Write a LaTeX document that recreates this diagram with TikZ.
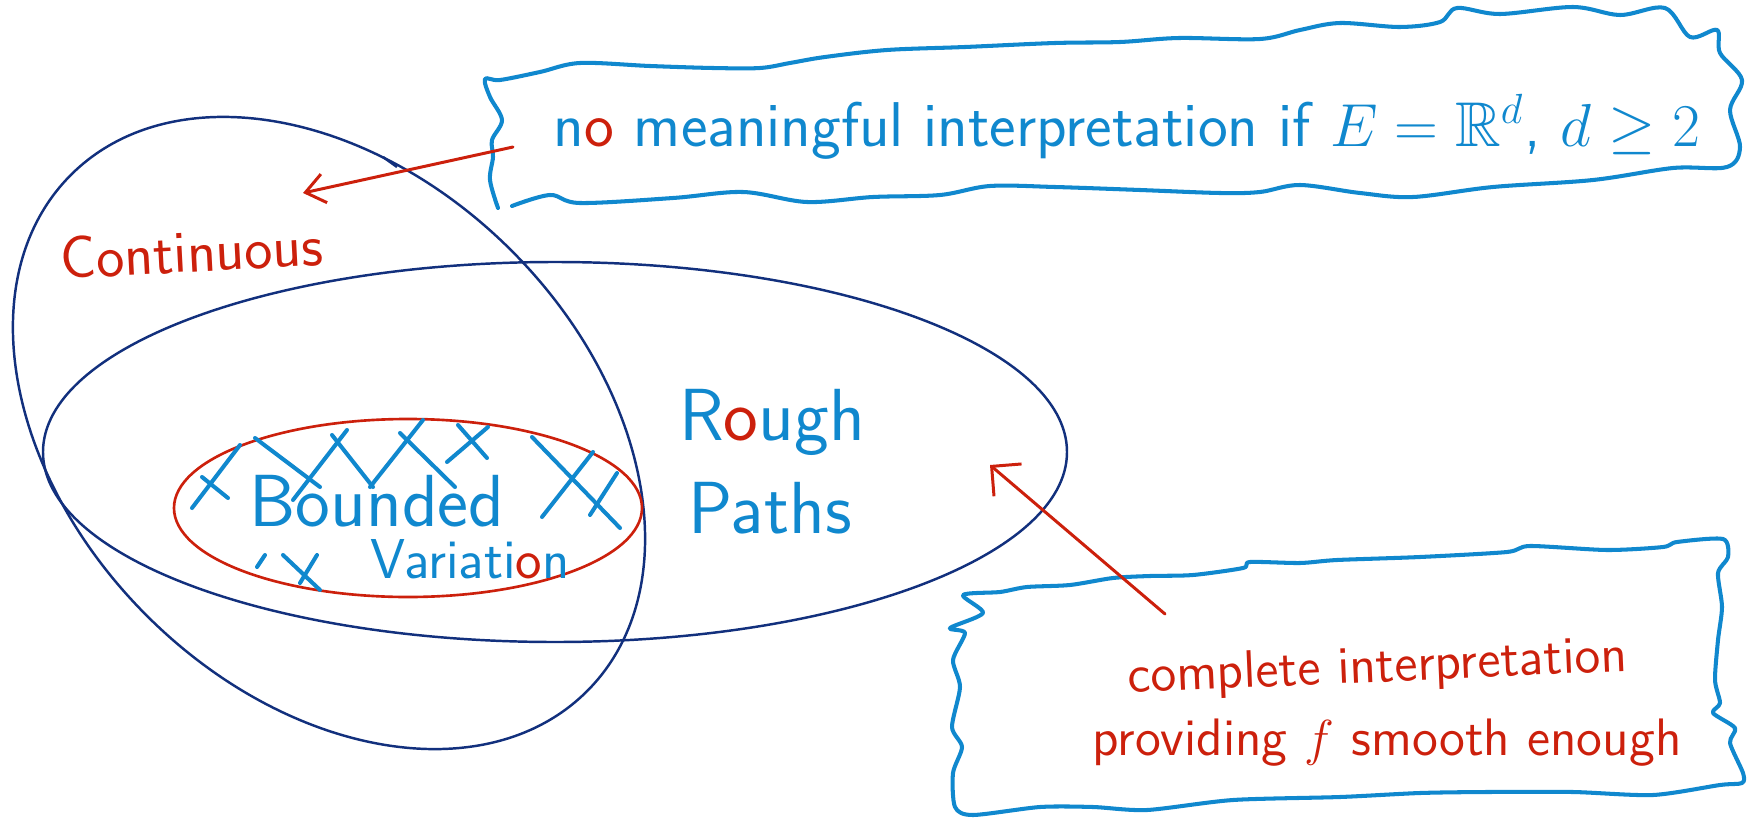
\documentclass[tikz,border=0pt]{standalone}
\usepackage{amsmath, amssymb}
\usetikzlibrary{arrows.meta}

\definecolor{inkNavy}{RGB}{18,48,125}
\definecolor{inkBlue}{RGB}{16,136,206}
\definecolor{inkRed}{RGB}{204,32,12}

\begin{document}
\begin{tikzpicture}[x=0.1mm, y=-0.1mm]
	\tikzstyle{setLine} = [draw=inkNavy, line width=0.7pt]
	\tikzstyle{bvLine} = [draw=inkRed, line width=0.75pt]
	\tikzstyle{cloudLine} = [draw=inkBlue, line width=1.15pt, line cap=round, line join=round]
	\tikzstyle{hatchLine} = [draw=inkBlue, line width=1.15pt, line cap=round]
	\tikzstyle{redArrow} = [draw=inkRed, line width=0.85pt, line cap=round]
	\tikzstyle{blueText} = [text=inkBlue, inner sep=0pt, anchor=base]
	\tikzstyle{redText} = [text=inkRed, inner sep=0pt, anchor=base]
	\useasboundingbox (0,0) rectangle (1762,819);
	% the three sets
	\draw[setLine, rotate around={-45:(329,433)}] (329,433) ellipse [x radius=365, y radius=258];
	\draw[setLine] (555,452) ellipse [x radius=512, y radius=190];
	\draw[bvLine] (408,508) ellipse [x radius=234, y radius=89];
	\draw[setLine] (383,157) -- (397,167);
	% hatching of the bounded variation set
	\foreach \xa/\ya/\xb/\yb in {255/438/320/487, 332/435/373/487, 400/433/455/487, 458/425/487/458,
		532/437/620/528, 202/477/228/498, 283/555/320/590, 192/508/240/445, 293/500/347/430,
		370/487/423/420, 447/462/488/427, 542/517/593/452, 590/515/617/473, 300/583/317/555,
		257/567/265/555}
		\draw[hatchLine] (\xa,\ya) -- (\xb,\yb);
	% notes
	\draw[cloudLine] plot[smooth, tension=0.55] coordinates {(512,206) (550,195) (580,203) (673,198)
		(743,192) (807,202) (873,197) (940,195) (990,186) (1055,187) (1140,190) (1220,193) (1260,192)
		(1300,185) (1360,193) (1413,197) (1493,187) (1593,180) (1673,168) (1727,167) (1740,147)
		(1730,110) (1742,80) (1720,53) (1717,30) (1690,37) (1665,8) (1620,15) (1573,7) (1500,14)
		(1457,8) (1440,22) (1400,27) (1340,23) (1300,30) (1260,39) (1179,38) (1120,42) (1055,43)
		(965,47) (887,50) (825,57) (790,63) (760,68) (713,68) (650,66) (580,63) (540,72) (500,80)
		(485,79) (490,97) (502,120) (492,140) (493,157) (490,180) (498,208)};
	\draw[cloudLine] plot[smooth cycle, tension=0.45] coordinates {(963,595) (1000,592) (1027,587)
		(1070,585) (1113,578) (1150,576) (1193,575) (1243,568) (1250,562) (1300,563) (1337,560)
		(1420,557) (1507,552) (1530,546) (1607,550) (1663,547) (1677,542) (1723,539) (1728,557)
		(1718,573) (1722,607) (1718,640) (1715,680) (1720,703) (1713,713) (1735,728) (1730,743)
		(1743,773) (1742,783) (1720,785) (1653,795) (1573,792) (1487,792) (1420,793) (1340,797)
		(1233,800) (1147,810) (1093,807) (1040,807) (973,815) (955,807) (953,773) (962,747)
		(952,727) (960,687) (953,660) (965,633) (950,628) (983,613)};
	% labels
	\node[redText, font=\sffamily\fontsize{17}{20}\selectfont, rotate=3] (continuous) at (193,272) {Continuous};
	\node[blueText, font=\sffamily\fontsize{21}{24}\selectfont] (rough) at (772,440) {R\textcolor{inkRed}{o}ugh};
	\node[blueText, font=\sffamily\fontsize{21}{24}\selectfont] (paths) at (770,533) {Paths};
	\node[blueText, font=\sffamily\fontsize{21}{24}\selectfont] (bounded) at (377,526) {Bounded};
	\node[blueText, font=\sffamily\fontsize{16}{19}\selectfont] (variation) at (470,578) {Variati\textcolor{inkRed}{o}n};
	\node[blueText, font=\sffamily\fontsize{18}{21}\selectfont] (noMeaning) at (1127,146)
		{n\textcolor{inkRed}{o} meaningful interpretation if $E=\mathbb{R}^d$, $d\geq 2$};
	\node[redText, font=\sffamily\fontsize{15}{18}\selectfont, rotate=2.5] (complete) at (1378,682) {complete interpretation};
	\node[redText, font=\sffamily\fontsize{15}{18}\selectfont] (providing) at (1387,755) {providing $f$ smooth enough};
	% arrows
	\coordinate (noTail) at (513,147);
	\coordinate (contTip) at (303,193);
	\coordinate (fullTail) at (1165,614);
	\coordinate (roughTip) at (990,465);
	\draw[redArrow, -{Straight Barb[angle=75:2.4mm]}] (noTail) -- (contTip);
	\draw[redArrow, -{Straight Barb[angle=90:3mm]}] (fullTail) -- (roughTip);
\end{tikzpicture}
\end{document}
